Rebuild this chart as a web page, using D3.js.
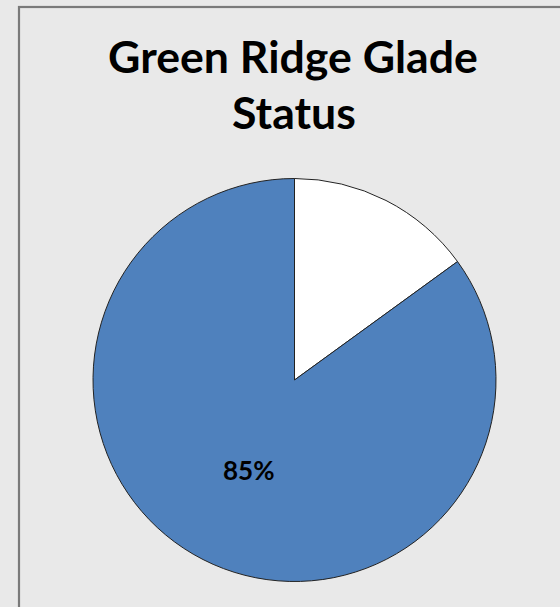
<!DOCTYPE html>
<html>
<head>
<meta charset="utf-8">
<script src="https://cdn.jsdelivr.net/npm/d3@7"></script>
<style>
  html, body { margin: 0; padding: 0; background: #e9e9e9; }
  svg { display: block; }
</style>
</head>
<body>
<svg id="chart" width="560" height="607"></svg>
<script>
const titleLines = ["Green Ridge Glade", "Status"];
const categories = ["Other", "Green Ridge Glade"];
const values = [15, 85];
const colors = ["#ffffff", "#4f81bd"];
const showLabel = [false, true];

const svg = d3.select("#chart");
svg.append("rect").attr("x", 0).attr("y", 0).attr("width", 560).attr("height", 607).attr("fill", "#e9e9e9");
svg.append("rect").attr("x", 19).attr("y", 7).attr("width", 600).attr("height", 700)
  .attr("fill", "#e9e9e9").attr("stroke", "#7a7a7a").attr("stroke-width", 2.2);

const fontFam = "Lato, 'Open Sans', 'Liberation Sans', sans-serif";
const tg = svg.append("g");
const t1 = tg.append("text").attr("x", 293).attr("y", 73).attr("text-anchor", "middle")
  .attr("font-family", fontFam).attr("font-weight", "bold").attr("font-size", 40).attr("fill", "#000")
  .text(titleLines[0]);
let w = t1.node().getComputedTextLength();
const fs = 40 * 370 / w;
t1.attr("font-size", fs);
tg.append("text").attr("x", 294).attr("y", 129).attr("text-anchor", "middle")
  .attr("font-family", fontFam).attr("font-weight", "bold").attr("font-size", fs).attr("fill", "#000")
  .text(titleLines[1]);

const cx = 294.5, cy = 380, r = 201.5;
const pie = d3.pie().sort(null).value(d => d);
const arcs = pie(values);
const arc = d3.arc().innerRadius(0).outerRadius(r);
const g = svg.append("g").attr("transform", `translate(${cx},${cy})`);
g.selectAll("path").data(arcs).enter().append("path")
  .attr("d", arc)
  .attr("fill", (d, i) => colors[i])
  .attr("stroke", "#222")
  .attr("stroke-width", 1);

const total = d3.sum(values);
const labels = g.selectAll("text.lbl").data(arcs).enter().filter((d, i) => showLabel[i]).append("text")
  .attr("class", "lbl")
  .attr("transform", d => { const c = arc.centroid(d); return `translate(${c[0]},${c[1] + 1})`; })
  .attr("text-anchor", "middle").attr("dy", "0.35em")
  .attr("font-family", fontFam).attr("font-weight", "bold").attr("font-size", 21).attr("fill", "#000")
  .text(d => Math.round(d.data / total * 100) + "%");
labels.each(function() {
  const lw = this.getComputedTextLength();
  d3.select(this).attr("font-size", Math.min(26, 21 * 54 / lw));
});
</script>
</body>
</html>
